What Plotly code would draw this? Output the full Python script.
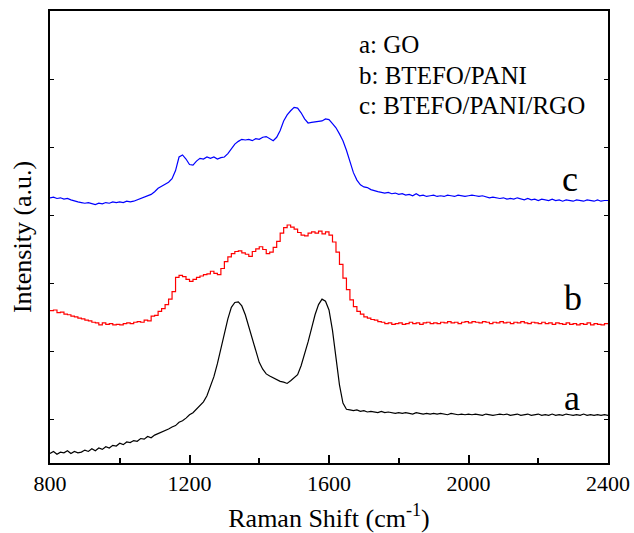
import plotly.graph_objects as go

# Raman shift axis (cm-1), sampled every 10 cm-1
wavenumber = list(range(800, 2401, 10))

# a: GO
intensity_go = [
    0.14, 0.17, 0.13, 0.16, 0.15, 0.18, 0.14, 0.17, 0.15, 0.16,
    0.19, 0.17, 0.21, 0.18, 0.22, 0.20, 0.24, 0.22, 0.26, 0.25,
    0.29, 0.27, 0.31, 0.30, 0.33, 0.32, 0.36, 0.35, 0.39, 0.37,
    0.41, 0.43, 0.45, 0.47, 0.50, 0.53, 0.55, 0.60, 0.62, 0.66,
    0.71, 0.74, 0.79, 0.84, 0.90, 0.99, 1.12, 1.27, 1.46, 1.68,
    1.90, 2.12, 2.29, 2.36, 2.37, 2.31, 2.18, 2.00, 1.80, 1.62,
    1.48, 1.38, 1.31, 1.28, 1.25, 1.22, 1.20, 1.19, 1.17, 1.21,
    1.26, 1.30, 1.43, 1.60, 1.78, 1.98, 2.18, 2.33, 2.41, 2.38,
    2.25, 1.95, 1.55, 1.15, 0.88, 0.79, 0.78, 0.77, 0.78, 0.76,
    0.77, 0.75, 0.76, 0.75, 0.74, 0.76, 0.74, 0.75, 0.74, 0.73,
    0.74, 0.73, 0.74, 0.73, 0.72, 0.74, 0.73, 0.72, 0.73, 0.72,
    0.73, 0.72, 0.73, 0.72, 0.71, 0.73, 0.72, 0.71, 0.72, 0.71,
    0.72, 0.71, 0.72, 0.71, 0.70, 0.72, 0.71, 0.70, 0.71, 0.72,
    0.71, 0.72, 0.70, 0.71, 0.72, 0.70, 0.71, 0.72, 0.70, 0.71,
    0.72, 0.70, 0.71, 0.70, 0.72, 0.70, 0.71, 0.70, 0.72, 0.71,
    0.70, 0.71, 0.70, 0.72, 0.70, 0.71, 0.70, 0.71, 0.70, 0.71,
    0.70,
]

# b: BTEFO/PANI
intensity_btefo_pani = [
    2.24, 2.25, 2.21, 2.22, 2.19, 2.18, 2.16, 2.15, 2.13, 2.12,
    2.10, 2.09, 2.07, 2.06, 2.03, 2.06, 2.04, 2.05, 2.03, 2.04,
    2.03, 2.05, 2.06, 2.05, 2.07, 2.08, 2.07, 2.10, 2.09, 2.16,
    2.17, 2.23, 2.27, 2.33, 2.41, 2.52, 2.73, 2.76, 2.74, 2.70,
    2.67, 2.70, 2.73, 2.75, 2.77, 2.78, 2.82, 2.79, 2.77, 2.86,
    2.96, 3.03, 3.08, 3.11, 3.12, 3.09, 3.07, 3.04, 3.11, 3.15,
    3.18, 3.14, 3.08, 3.10, 3.17, 3.26, 3.38, 3.46, 3.50, 3.47,
    3.44, 3.39, 3.35, 3.34, 3.38, 3.40, 3.38, 3.41, 3.37, 3.40,
    3.35, 3.25, 3.10, 2.92, 2.72, 2.55, 2.40, 2.30, 2.23, 2.19,
    2.15, 2.13, 2.11, 2.10, 2.08, 2.07, 2.05, 2.06, 2.04, 2.05,
    2.06, 2.04, 2.05, 2.07, 2.05, 2.06, 2.04, 2.06, 2.07, 2.05,
    2.06, 2.05, 2.07, 2.06, 2.08, 2.06, 2.07, 2.05, 2.07, 2.08,
    2.06, 2.08, 2.07, 2.06, 2.08, 2.07, 2.05, 2.07, 2.06, 2.08,
    2.06, 2.07, 2.05, 2.07, 2.06, 2.08, 2.06, 2.05, 2.07, 2.06,
    2.05, 2.07, 2.05, 2.06, 2.04, 2.06, 2.05, 2.04, 2.06, 2.04,
    2.05, 2.03, 2.05, 2.04, 2.06, 2.03, 2.05, 2.04, 2.03, 2.05,
    2.04,
]

# c: BTEFO/PANI/RGO
intensity_btefo_pani_rgo = [
    3.90, 3.91, 3.89, 3.90, 3.88, 3.89, 3.87, 3.85, 3.84, 3.83,
    3.82, 3.83, 3.81, 3.80, 3.82, 3.81, 3.83, 3.82, 3.84, 3.83,
    3.84, 3.83, 3.85, 3.84, 3.85, 3.87, 3.88, 3.90, 3.92, 3.95,
    3.99, 4.04, 4.07, 4.10, 4.13, 4.18, 4.30, 4.50, 4.53, 4.47,
    4.39, 4.38, 4.44, 4.48, 4.47, 4.50, 4.48, 4.50, 4.47, 4.49,
    4.50, 4.55, 4.62, 4.69, 4.73, 4.76, 4.75, 4.76, 4.74, 4.77,
    4.76, 4.79, 4.80, 4.77, 4.74, 4.79, 4.89, 5.03, 5.12, 5.18,
    5.23, 5.22, 5.15, 5.06, 5.00, 5.01, 5.02, 5.02, 5.03, 5.06,
    5.05, 4.99, 4.93, 4.84, 4.74, 4.60, 4.44, 4.27, 4.16, 4.09,
    4.06, 4.05, 4.02, 4.00, 3.99, 3.98, 3.97, 3.98, 3.96, 3.97,
    3.95, 3.96, 3.94, 3.95, 3.93, 3.96, 3.93, 3.94, 3.92, 3.93,
    3.94, 3.92, 3.93, 3.92, 3.94, 3.93, 3.92, 3.94, 3.93, 3.92,
    3.93, 3.94, 3.93, 3.92, 3.93, 3.92, 3.90, 3.91, 3.90, 3.89,
    3.90, 3.88, 3.89, 3.88, 3.90, 3.88, 3.87, 3.89, 3.87, 3.88,
    3.86, 3.88, 3.87, 3.86, 3.88, 3.86, 3.87, 3.85, 3.87, 3.86,
    3.85, 3.87, 3.86, 3.85, 3.87, 3.86, 3.85, 3.87, 3.85, 3.86,
    3.86,
]

curve_tags = ["a", "b", "c"]
sample_names = ["a: GO", "b: BTEFO/PANI", "c: BTEFO/PANI/RGO"]
x_tick_values = [800, 1200, 1600, 2000, 2400]

FONT = "Liberation Serif"

fig = go.Figure()
fig.add_trace(go.Scatter(x=wavenumber, y=intensity_go, mode="lines",
                         line=dict(color="black", width=1.2), name="GO"))
fig.add_trace(go.Scatter(x=wavenumber, y=intensity_btefo_pani, mode="lines",
                         line=dict(color="#ff0000", width=1.2, shape="hv"),
                         name="BTEFO/PANI"))
fig.add_trace(go.Scatter(x=wavenumber, y=intensity_btefo_pani_rgo, mode="lines",
                         line=dict(color="#0000ff", width=1.2), name="BTEFO/PANI/RGO"))

# curve tags at the right-hand end of each spectrum
tag_pos = [(2296, 0.95), (2299, 2.42), (2291, 4.18)]
for tag, (tx, ty) in zip(curve_tags, tag_pos):
    fig.add_annotation(x=tx, y=ty, text=tag, showarrow=False,
                       xanchor="center", yanchor="middle",
                       font=dict(family=FONT, size=36, color="black"))

# sample key in the upper right
for i, name in enumerate(sample_names):
    fig.add_annotation(xref="paper", yref="paper", x=0.55, y=0.925 - i * 0.067,
                       text=name, showarrow=False, xanchor="left", yanchor="middle",
                       font=dict(family=FONT, size=25, color="black"))

# vertical intensity label left of the frame
fig.add_annotation(xref="paper", yref="paper", x=-0.05, y=0.5,
                   text="Intensity (a.u.)", textangle=-90, showarrow=False,
                   xanchor="center", yanchor="middle",
                   font=dict(family=FONT, size=26, color="black"))

fig.update_layout(
    width=634, height=533,
    margin=dict(l=50, r=26, t=11, b=70, autoexpand=False),
    paper_bgcolor="white", plot_bgcolor="white",
    showlegend=False,
    font=dict(family=FONT, color="black"),
    xaxis=dict(
        range=[800, 2400], tickvals=x_tick_values, automargin=False,
        ticks="inside", ticklen=8, tickwidth=1.5, tickcolor="black",
        minor=dict(ticks="inside", ticklen=5, tickwidth=1.5, tickcolor="black",
                   tickvals=[1000, 1400, 1800, 2200]),
        showline=True, linewidth=2, linecolor="black", mirror=True,
        showgrid=False, zeroline=False,
        tickfont=dict(family=FONT, size=22, color="black"),
        title=dict(text="Raman Shift (cm<sup>-1</sup>)",
                   font=dict(family=FONT, size=26, color="black")),
    ),
    yaxis=dict(
        range=[0, 6.647], tick0=0.647, dtick=1, automargin=False,
        ticks="inside", ticklen=4, tickwidth=1, tickcolor="black",
        showticklabels=False,
        showline=True, linewidth=2, linecolor="black", mirror="ticks",
        showgrid=False, zeroline=False,
    ),
)

fig.write_html("out.html")
